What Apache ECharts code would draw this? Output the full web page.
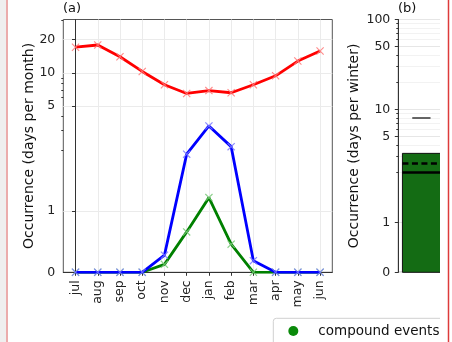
<!DOCTYPE html>
<html><head><meta charset="utf-8">
<script src="https://cdn.jsdelivr.net/npm/echarts@6/dist/echarts.min.js"></script>
<style>html,body{margin:0;padding:0;background:#fff}#c{width:452px;height:342px}</style>
</head><body><div id="c"></div>
<script>
// ---- data ----
const months = ['jul','aug','sep','oct','nov','dec','jan','feb','mar','apr','may','jun'];
const redValues   = [17.1, 17.9, 14.0, 10.3, 7.8, 6.5, 6.9, 6.6, 7.8, 9.4, 12.8, 15.8];
const blueValues  = [0, 0, 0, 0, 0.28, 1.93, 3.3, 2.14, 0.19, 0, 0, 0];
const greenValues = [0, 0, 0, 0, 0.13, 0.66, 1.22, 0.46, 0, 0, 0, 0];
const monthlyTicks = [0, 1, 5, 10, 20];
const monthlyMinorTicks = [2, 3, 4, 6, 7, 8, 9, 30];
const winterTicks = [0, 1, 5, 10, 50, 100];
const winterMinorTicks = [2, 3, 4, 6, 7, 8, 9, 20, 30, 40, 60, 70, 80, 90];
const winterBoxLow = 0;
const winterBoxHigh = 3.25;
const winterMedian = 2.0;
const winterMean = 2.52;
const winterWhiskerHigh = 8.1;
const legendLabel = 'compound events';

// ---- symlog scale (linthresh 2, linscale 1, base 10) ----
const LINTHRESH = 2, LINSCALE_ADJ = 1 / (1 - 1 / 10);
function symlog(v) {
  const a = Math.abs(v), s = v < 0 ? -1 : 1;
  return a <= LINTHRESH ? v * LINSCALE_ADJ : s * LINTHRESH * (LINSCALE_ADJ + Math.log10(a / LINTHRESH));
}
function labelFor(ticks) {
  return function (val) {
    const t = ticks.find(t => Math.abs(symlog(t) - val) < 1e-6);
    return t === undefined ? '' : String(t);
  };
}

const FONT = 'DejaVu Sans';
const TICKFS = 12.5;
const AXC = '#333';
const crossPath = 'path://M1,0L5,4L9,0L10,1L6,5L10,9L9,10L5,6L1,10L0,9L4,5L0,1Z';

const gridA = { left: 63.3, top: 19.5, width: 269, height: 252.8 };
const gridB = { left: 398.3, top: 19.5, width: 100, height: 252.8 };

function lineSeries(name, values, color, markerColor, z) {
  return {
    name: name, type: 'line', xAxisIndex: 0, yAxisIndex: 0, z: z,
    data: values.map((v, i) => [i, symlog(v)]),
    lineStyle: { color: color, width: 2.8 },
    itemStyle: { color: markerColor },
    symbol: crossPath, symbolSize: 8, showSymbol: true,
    animation: false, silent: true
  };
}

const boxX0 = 0.077, boxX1 = 0.81, capX0 = 0.26, capX1 = 0.6;

const option = {
  animation: false,
  backgroundColor: '#fff',
  textStyle: { fontFamily: FONT },
  title: [
    { text: '(a)', left: 63, top: 2, padding: 0, textStyle: { fontFamily: FONT, fontSize: 13, fontWeight: 'normal', color: '#111' } },
    { text: '(b)', left: 398, top: 2, padding: 0, textStyle: { fontFamily: FONT, fontSize: 13, fontWeight: 'normal', color: '#111' } }
  ],
  grid: [
    Object.assign({ show: true, borderColor: '#555', borderWidth: 1, containLabel: false }, gridA),
    Object.assign({ show: true, borderColor: '#555', borderWidth: 1, containLabel: false }, gridB)
  ],
  xAxis: [
    {
      type: 'value', gridIndex: 0, min: -0.55, max: 11.55,
      axisLine: { show: true, lineStyle: { color: AXC } },
      axisTick: { show: true, length: 3.5, lineStyle: { color: AXC }, customValues: months.map((m, i) => i) },
      axisLabel: { customValues: months.map((m, i) => i), rotate: 90, margin: 8, fontFamily: FONT, fontSize: TICKFS, color: '#222',
        formatter: v => months[Math.round(v)] || '' },
      splitLine: { show: true, lineStyle: { color: '#ebebeb', width: 1 } }
    },
    {
      type: 'value', gridIndex: 1, min: 0, max: 1, show: false
    }
  ],
  yAxis: [
    {
      type: 'value', gridIndex: 0, min: 0, max: symlog(30.5), position: 'left',
      name: 'Occurrence (days per month)', nameLocation: 'middle', nameGap: 27, nameMoveOverlap: false,
      nameTextStyle: { fontFamily: FONT, fontSize: 14, color: '#111' },
      axisLine: { show: true, lineStyle: { color: AXC } },
      axisTick: { show: true, length: 3.5, lineStyle: { color: AXC }, customValues: monthlyTicks.map(symlog) },
      axisLabel: { customValues: monthlyTicks.map(symlog), margin: 8, fontFamily: FONT, fontSize: TICKFS, color: '#222', formatter: labelFor(monthlyTicks) },
      splitLine: { show: true, lineStyle: { color: '#ebebeb', width: 1 } }
    },
    {
      type: 'value', gridIndex: 0, min: 0, max: symlog(30.5), position: 'left', offset: 0,
      axisLine: { show: false },
      axisTick: { show: true, length: 2, lineStyle: { color: AXC }, customValues: monthlyMinorTicks.map(symlog) },
      axisLabel: { show: false },
      splitLine: { show: false }
    },
    {
      type: 'value', gridIndex: 1, min: 0, max: symlog(100), position: 'left',
      name: 'Occurrence (days per winter)', nameLocation: 'middle', nameGap: 37, nameMoveOverlap: false,
      nameTextStyle: { fontFamily: FONT, fontSize: 14, color: '#111' },
      axisLine: { show: true, lineStyle: { color: AXC } },
      axisTick: { show: true, length: 3.5, lineStyle: { color: AXC }, customValues: winterTicks.map(symlog) },
      axisLabel: { customValues: winterTicks.map(symlog), margin: 8, fontFamily: FONT, fontSize: TICKFS, color: '#222', formatter: labelFor(winterTicks) },
      splitLine: { show: true, lineStyle: { color: '#e6e6e6', width: 1 } }
    },
    {
      type: 'value', gridIndex: 1, min: 0, max: symlog(100), position: 'left', offset: 0,
      axisLine: { show: false },
      axisTick: { show: true, length: 2, lineStyle: { color: AXC }, customValues: winterMinorTicks.map(symlog) },
      axisLabel: { show: false },
      splitLine: { show: true, lineStyle: { color: '#f2f2f2', width: 1 } }
    }
  ],
  series: [
    lineSeries(legendLabel, greenValues, '#008000', 'rgba(120,200,120,0.85)', 3),
    lineSeries('blue', blueValues, '#0000ff', 'rgba(120,120,255,0.85)', 4),
    lineSeries('red', redValues, '#ff0000', 'rgba(255,120,120,0.85)', 5),
    {
      name: 'winter', type: 'line', xAxisIndex: 1, yAxisIndex: 2, data: [], silent: true, animation: false,
      markArea: {
        silent: true,
        itemStyle: { color: '#146c14', borderColor: '#111', borderWidth: 1 },
        label: { show: false },
        data: [[{ coord: [boxX0, symlog(winterBoxLow)] }, { coord: [boxX1, symlog(winterBoxHigh)] }]]
      },
      markLine: {
        silent: true, symbol: 'none', label: { show: false },
        data: [
          [{ coord: [boxX0, symlog(winterMedian)], lineStyle: { color: '#000', width: 2.5, type: 'solid' } }, { coord: [boxX1, symlog(winterMedian)] }],
          [{ coord: [boxX0, symlog(winterMean)], lineStyle: { color: '#000', width: 2.5, type: [6, 3.5] } }, { coord: [boxX1, symlog(winterMean)] }],
          [{ coord: [capX0, symlog(winterWhiskerHigh)], lineStyle: { color: '#333', width: 1.5, type: 'solid' } }, { coord: [capX1, symlog(winterWhiskerHigh)] }]
        ]
      }
    }
  ],
  graphic: [
    { type: 'rect', z: 90, shape: { x: 273.3, y: 318.3, width: 200, height: 40, r: 3 }, style: { fill: '#fff', stroke: '#d0d0d0', lineWidth: 1 } },
    { type: 'circle', z: 91, shape: { cx: 293.3, cy: 331, r: 5 }, style: { fill: '#0a8a0a' } },
    { type: 'text', z: 91, x: 318.3, y: 331, style: { text: legendLabel, font: '13.5px "DejaVu Sans"', fill: '#111', verticalAlign: 'middle', align: 'left' } },
    { type: 'rect', z: 100, shape: { x: 440, y: 0, width: 12, height: 342 }, style: { fill: '#fff' } },
    { type: 'rect', z: 101, shape: { x: 0, y: 0, width: 6, height: 342 }, style: { fill: '#efefef' } },
    { type: 'line', z: 101, shape: { x1: 7, y1: 0, x2: 7, y2: 342 }, style: { stroke: '#e49090', lineWidth: 1.5 } },
    { type: 'line', z: 101, shape: { x1: 448.5, y1: 0, x2: 448.5, y2: 342 }, style: { stroke: '#dd3b3b', lineWidth: 1.5 } }
  ]
};

const chart = echarts.init(document.getElementById('c'), null, { renderer: 'canvas' });
chart.setOption(option);
</script>
</body></html>
